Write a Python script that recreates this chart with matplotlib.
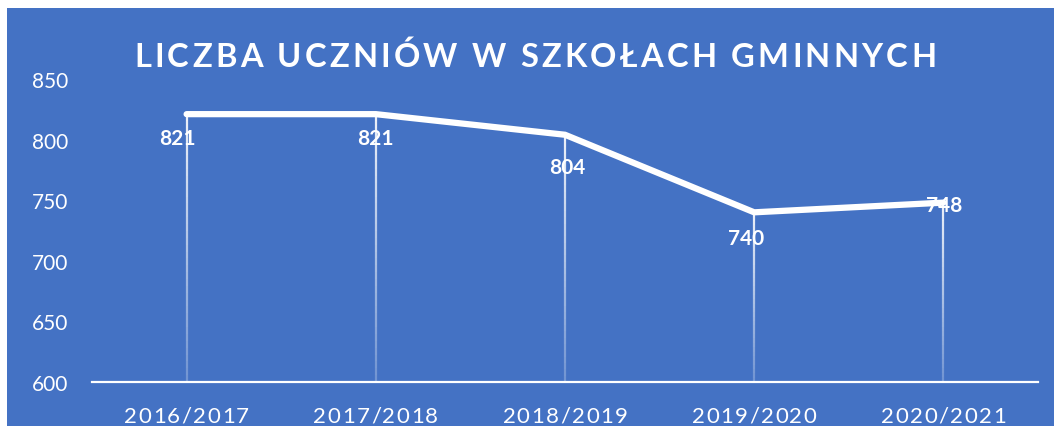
import matplotlib.pyplot as plt
import numpy as np
from matplotlib.collections import LineCollection
from matplotlib.font_manager import FontProperties
from matplotlib.patches import Rectangle
from matplotlib.transforms import IdentityTransform

# dane z wykresu
lata = ['2016/2017', '2017/2018', '2018/2019', '2019/2020', '2020/2021']
uczniowie = [821, 821, 804, 740, 748]
tytul = 'LICZBA UCZNIÓW W SZKOŁACH GMINNYCH'

# przesuniecia etykiet danych w pikselach (dx, dy)
przes_x = [-9, 0, 2, -8, 1]
przes_y = [-24, -24, -32, -26, -2]

NIEBIESKI = '#4472C4'
W, H = 1054, 427

fig = plt.figure(figsize=(W / 100, H / 100), dpi=100)
fig.patch.set_facecolor('white')
fig.patches.append(Rectangle((7 / W, 0), 1, 1 - 9 / H, transform=fig.transFigure,
                             facecolor=NIEBIESKI, edgecolor='none', zorder=-10))

ax = fig.add_axes([92 / W, 44 / H, 946 / W, 303 / H])
ax.set_facecolor('none')
ax.set_xlim(0, len(lata))
ax.set_ylim(600, 850)
x = np.arange(len(lata)) + 0.5

for s in ['top', 'right', 'left']:
    ax.spines[s].set_visible(False)
ax.spines['bottom'].set_color('white')
ax.spines['bottom'].set_linewidth(1.6)
ax.set_yticks(range(600, 851, 50))
ax.tick_params(axis='y', length=0, pad=17, labelcolor='white', labelsize=15)
for lab in ax.get_yticklabels():
    lab.set_fontfamily('Lato')
ax.set_xticks([])

# linie spadku z gradientem
for xi, yi in zip(x, uczniowie):
    ys = np.linspace(600, yi, 40)
    segs = [[(xi, ys[k]), (xi, ys[k + 1])] for k in range(len(ys) - 1)]
    alfy = np.linspace(0.25, 0.9, len(segs))
    kolory = [(1, 1, 1, a) for a in alfy]
    ax.add_collection(LineCollection(segs, colors=kolory, linewidths=1.6, zorder=2))

ax.plot(x, uczniowie, color='white', linewidth=4.5, solid_capstyle='round',
        solid_joinstyle='miter', zorder=3, clip_on=False)

for xi, yi, dx, dy in zip(x, uczniowie, przes_x, przes_y):
    ax.annotate(str(yi), (xi, yi), xytext=(dx * 0.72, dy * 0.72), textcoords='offset points',
                ha='center', va='center', color='white', fontsize=15, fontweight='bold',
                fontfamily='Lato', zorder=4)

renderer = fig.canvas.get_renderer()


def szerokosc(t, prop):
    return renderer.get_text_width_height_descent(t, prop, ismath=False)[0]


def tekst_rozstrzelony(xs, y, s, prop, docelowa):
    ref = szerokosc('X', prop)
    pozycje = [szerokosc(s[:i] + 'X', prop) - ref for i in range(len(s))]
    naturalna = szerokosc(s, prop)
    odstep = (docelowa - naturalna) / (len(s) - 1)
    x0 = xs - docelowa / 2
    for i, ch in enumerate(s):
        if ch == ' ':
            continue
        fig.text(x0 + pozycje[i] + i * odstep, y, ch, fontproperties=prop, color='white',
                 ha='left', va='baseline', transform=IdentityTransform())


prop_tyt = FontProperties(family='Lato', weight='bold', size=23.5)
tekst_rozstrzelony(535, H - 67, tytul, prop_tyt, 802)

prop_kat = FontProperties(family='Lato', size=16)
for xi, l in zip(x, lata):
    xd = ax.transData.transform((xi, 600))[0]
    tekst_rozstrzelony(xd, H - 423, l, prop_kat, 125)

fig.savefig('out.png', dpi=100)
